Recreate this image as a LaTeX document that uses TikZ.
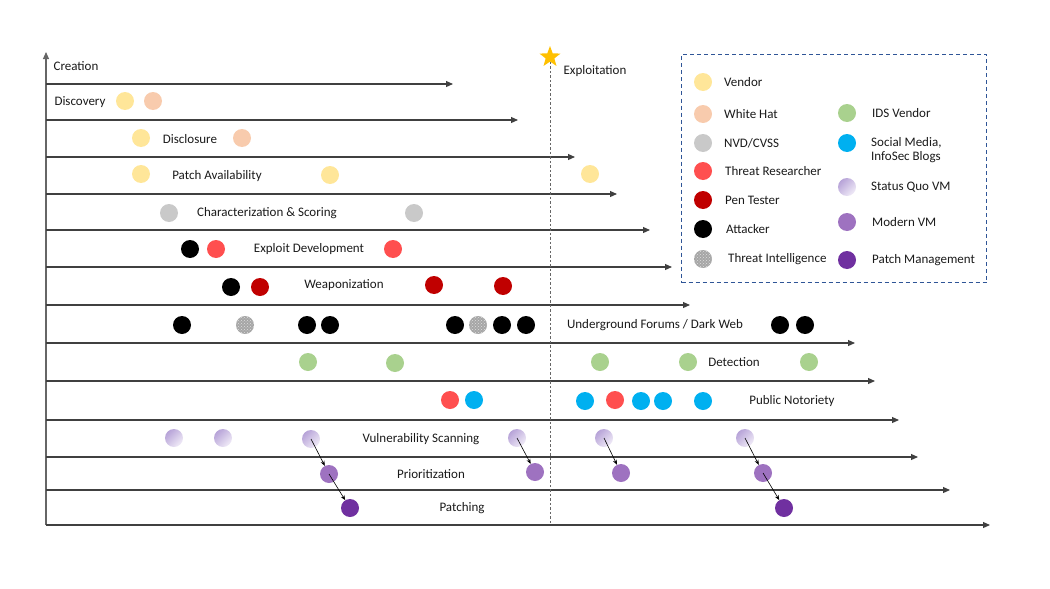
\documentclass[tikz,border=0pt]{standalone}
\usepackage{fontspec}
\setmainfont{Carlito}
\usetikzlibrary{arrows.meta,shapes.geometric,patterns}
\definecolor{cvendor}{HTML}{FFE699}
\definecolor{cwhite}{HTML}{F8CBAD}
\definecolor{cnvd}{HTML}{C9C9C9}
\definecolor{ctres}{HTML}{FF4F4F}
\definecolor{cpen}{HTML}{C00000}
\definecolor{cids}{HTML}{A9D18E}
\definecolor{csoc}{HTML}{00B0F0}
\definecolor{csqA}{HTML}{B7A3D8}
\definecolor{csqB}{HTML}{F0EBF7}
\definecolor{cmvm}{HTML}{9E72C0}
\definecolor{cpm}{HTML}{7030A0}
\definecolor{cline}{HTML}{404040}
\definecolor{clegend}{HTML}{2F5597}
\definecolor{cstar}{HTML}{FFC000}
\definecolor{ctext}{HTML}{1A1A1A}
\tikzset{
  dot/.style={circle,minimum size=18pt,inner sep=0pt,draw=none},
  vendor/.style={dot,fill=cvendor},
  whitehat/.style={dot,fill=cwhite},
  nvd/.style={dot,fill=cnvd},
  tres/.style={dot,fill=ctres},
  pent/.style={dot,fill=cpen},
  attk/.style={dot,fill=black},
  tintel/.style={dot,fill=gray!70,postaction={pattern=crosshatch dots,pattern color=gray!25}},
  ids/.style={dot,fill=cids},
  social/.style={dot,fill=csoc},
  sqvm/.style={dot,top color=csqA,bottom color=csqB,shading angle=45},
  mvm/.style={dot,fill=cmvm},
  pmgmt/.style={dot,fill=cpm},
  lbl/.style={font=\fontsize{13}{14.5}\selectfont,text=ctext,inner sep=0pt},
  leg/.style={lbl,anchor=west,align=left},
  tl/.style={draw=cline,line width=1.1pt,-{Triangle[length=7pt,width=6pt]}},
  flow/.style={draw=black,line width=0.6pt,-{Stealth[length=5pt,width=4pt]}},
}
\begin{document}
\begin{tikzpicture}[x=1pt,y=-1pt]
\useasboundingbox (0,0) rectangle (1050,589);
% axes and timeline lines
\coordinate (o) at (46,525);
\coordinate (top) at (46,52);
\draw[tl,draw=gray!80!black] (o) -- (top);
\foreach \yy/\xx [count=\i] in {84/453,120/518,157/575,194/617,230/650,267/672,305/690,343/855,381/875,420/899,457/918,490/950,525/990}{
  \coordinate (s\i) at (46,\yy);
  \coordinate (e\i) at (\xx,\yy);
  \draw[tl] (s\i) -- (e\i);
}
% exploitation marker
\node[star,star points=5,star point ratio=2.4,fill=cstar,minimum size=22pt,inner sep=0pt] (star1) at (550,57) {};
\coordinate (sb) at (550,525);
\draw[dashed,draw=gray!80!black,line width=0.7pt,dash pattern=on 2.5pt off 2pt] (star1.south) -- (sb);
\node[lbl] (lexp) at (595,71) {Exploitation};
% labels
\node[lbl] (lcre) at (76,66) {Creation};
\node[lbl] (ldis) at (80,102) {Discovery};
\node[lbl] (ldsc) at (190,139) {Disclosure};
\node[lbl] (lpat) at (217,176) {Patch Availability};
\node[lbl] (lchr) at (267,213) {Characterization \& Scoring};
\node[lbl] (lexd) at (309,249) {Exploit Development};
\node[lbl] (lwea) at (344,285) {Weaponization};
\node[lbl] (lund) at (655,325) {Underground Forums / Dark Web};
\node[lbl] (ldet) at (734,362) {Detection};
\node[lbl] (lpub) at (792,401) {Public Notoriety};
\node[lbl] (lvul) at (421,439) {Vulnerability Scanning};
\node[lbl] (lpri) at (431,474) {Prioritization};
\node[lbl] (lptc) at (462,508) {Patching};
% discovery
\node[vendor] (a1) at (125,101) {};
\node[whitehat] (a2) at (153,101) {};
% disclosure
\node[vendor] (b1) at (141,138) {};
\node[whitehat] (b2) at (242,138) {};
% patch availability
\node[vendor] (c1) at (141,174) {};
\node[vendor] (c2) at (330,175) {};
\node[vendor] (c3) at (590,174) {};
% characterization
\node[nvd] (d1) at (169,213) {};
\node[nvd] (d2) at (414,213) {};
% exploit development
\node[attk] (f1) at (190,249) {};
\node[tres] (f2) at (216,249) {};
\node[tres] (f3) at (393,249) {};
% weaponization
\node[attk] (g1) at (231,287) {};
\node[pent] (g2) at (260,287) {};
\node[pent] (g3) at (434,285) {};
\node[pent] (g4) at (503,286) {};
% underground
\node[attk] (h1) at (182,325) {};
\node[tintel] (h2) at (245,325) {};
\node[attk] (h3) at (307,325) {};
\node[attk] (h4) at (330,325) {};
\node[attk] (h5) at (455,325) {};
\node[tintel] (h6) at (478,325) {};
\node[attk] (h7) at (502,325) {};
\node[attk] (h8) at (526,325) {};
\node[attk] (h9) at (780,325) {};
\node[attk] (h10) at (805,325) {};
% detection
\node[ids] (i1) at (308,362) {};
\node[ids] (i2) at (395,363) {};
\node[ids] (i3) at (600,362) {};
\node[ids] (i4) at (688,362) {};
\node[ids] (i5) at (809,362) {};
% public notoriety
\node[tres] (j1) at (450,400) {};
\node[social] (j2) at (474,400) {};
\node[social] (j3) at (585,401) {};
\node[tres] (j4) at (615,400) {};
\node[social] (j5) at (641,401) {};
\node[social] (j6) at (663,401) {};
\node[social] (j7) at (703,401) {};
% vulnerability scanning
\node[sqvm] (k1) at (174,438) {};
\node[sqvm] (k2) at (223,438) {};
\node[sqvm] (k3) at (311,439) {};
\node[sqvm] (k4) at (517,438) {};
\node[sqvm] (k5) at (604,438) {};
\node[sqvm] (k6) at (745,438) {};
% prioritization
\node[mvm] (m1) at (329,474) {};
\node[mvm] (m2) at (535,472) {};
\node[mvm] (m3) at (621,473) {};
\node[mvm] (m4) at (763,473) {};
% patching
\node[pmgmt] (p1) at (350,508) {};
\node[pmgmt] (p2) at (784,508) {};
% flows
\draw[flow] (k3.center) -- (m1);
\draw[flow] (m1.center) -- (p1);
\draw[flow] (k4.center) -- (m2);
\draw[flow] (k5.center) -- (m3);
\draw[flow] (k6.center) -- (m4);
\draw[flow] (m4.center) -- (p2);
% legend
\node[draw=clegend,line width=1pt,dash pattern=on 4pt off 3pt,minimum width=305pt,minimum height=228pt,anchor=north west,inner sep=0pt] (legbox) at (681,54) {};
\node[vendor] (lg1) at (703,82) {};
\node[leg] (lt1) at (724,82) {Vendor};
\node[whitehat] (lg2) at (703,114) {};
\node[leg] (lt2) at (724,114) {White Hat};
\node[nvd] (lg3) at (703,143) {};
\node[leg] (lt3) at (724,143) {NVD/CVSS};
\node[tres] (lg4) at (703,171) {};
\node[leg] (lt4) at (725,171) {Threat Researcher};
\node[pent] (lg5) at (703,200) {};
\node[leg] (lt5) at (725,200) {Pen Tester};
\node[attk] (lg6) at (703,229) {};
\node[leg] (lt6) at (726,229) {Attacker};
\node[tintel] (lg7) at (703,259) {};
\node[leg] (lt7) at (728,259) {Threat Intelligence};
\node[ids] (lg8) at (847,113) {};
\node[leg] (lt8) at (872,113) {IDS Vendor};
\node[social] (lg9) at (847,143) {};
\node[leg] (lt9) at (871,150) {Social Media,\\InfoSec Blogs};
\node[sqvm] (lg10) at (847,187) {};
\node[leg] (lt10) at (871,187) {Status Quo VM};
\node[mvm] (lg11) at (847,222) {};
\node[leg] (lt11) at (872,222) {Modern VM};
\node[pmgmt] (lg12) at (847,260) {};
\node[leg] (lt12) at (872,260) {Patch Management};
\end{tikzpicture}
\end{document}
